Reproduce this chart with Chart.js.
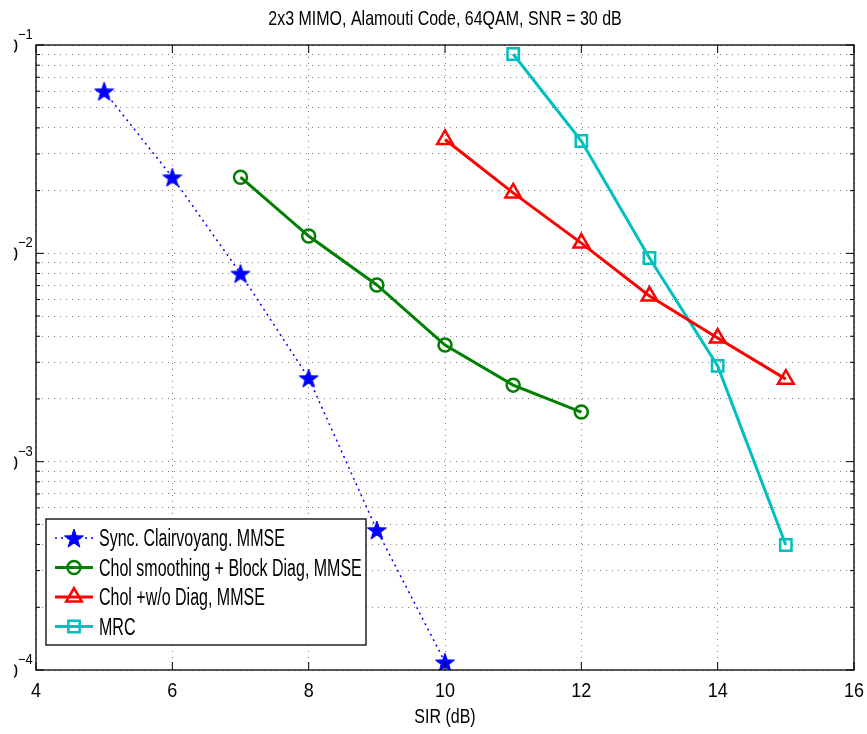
<!DOCTYPE html>
<html>
<head>
<meta charset="utf-8">
<script src="https://cdn.jsdelivr.net/npm/chart.js@4/dist/chart.umd.min.js"></script>
<style>
html, body { margin: 0; padding: 0; background: #fff; }
#wrap { width: 867px; height: 734px; position: relative; }
</style>
</head>
<body>
<div id="wrap"><canvas id="chart"></canvas></div>
<script>
// ---- data ----
var titleText = '2x3 MIMO, Alamouti Code, 64QAM, SNR = 30 dB';
var xTitle = 'SIR (dB)';

var syncSir = [5, 6, 7, 8, 9, 10];
var syncBer = [0.060, 0.0232, 0.0080, 0.00252, 0.00047, 0.000109];

var cholBlockSir = [7, 8, 9, 10, 11, 12];
var cholBlockBer = [0.0232, 0.0121, 0.00705, 0.00363, 0.00233, 0.00173];

var cholNoDiagSir = [10, 11, 12, 13, 14, 15];
var cholNoDiagBer = [0.0352, 0.0195, 0.0112, 0.00624, 0.00392, 0.00249];

var mrcSir = [11, 12, 13, 14, 15];
var mrcBer = [0.0905, 0.0346, 0.0095, 0.00288, 0.000398];

var seriesNames = ['Sync. Clairvoyang. MMSE', 'Chol smoothing + Block Diag, MMSE', 'Chol +w/o Diag, MMSE', 'MRC'];

var xTicks = [4, 6, 8, 10, 12, 14, 16];
var yDecades = [1e-4, 1e-3, 1e-2, 1e-1];
var yDecadeExp = ['\u22124', '\u22123', '\u22122', '\u22121'];
var yMinorMult = [2, 3, 4, 5, 6, 7, 8, 9];

function toPoints(xs, ys) {
    var pts = [];
    for (var i = 0; i < xs.length; i++) pts.push({x: xs[i], y: ys[i]});
    return pts;
}

// filled pentagram marker
function makeStar(color, r) {
    var c = document.createElement('canvas');
    var s = Math.ceil(r * 2 + 4);
    c.width = s; c.height = s;
    var g = c.getContext('2d');
    g.translate(s / 2, s / 2 + 1);
    g.beginPath();
    for (var i = 0; i < 10; i++) {
        var rr = (i % 2 === 0) ? r : r * 0.4;
        var a = -Math.PI / 2 + i * Math.PI / 5;
        var px = rr * Math.cos(a), py = rr * Math.sin(a);
        if (i === 0) g.moveTo(px, py); else g.lineTo(px, py);
    }
    g.closePath();
    g.fillStyle = color;
    g.fill();
    g.strokeStyle = color;
    g.lineWidth = 1;
    g.stroke();
    return c;
}
var starImg = makeStar('#0000ff', 10);

var FONT = '"Liberation Sans", Arial, Helvetica, sans-serif';

function stretchText(ctx, txt, x, y, size, align, sy) {
    ctx.save();
    ctx.font = size + 'px ' + FONT;
    ctx.textAlign = align;
    ctx.textBaseline = 'alphabetic';
    ctx.translate(x, y);
    ctx.scale(1, sy);
    ctx.fillText(txt, 0, 0);
    ctx.restore();
}

var matlabFrame = {
    id: 'matlabFrame',
    afterDatasetsDraw: function (chart) {
        var ctx = chart.ctx, a = chart.chartArea;
        var xs = chart.scales.x, ys = chart.scales.y;
        ctx.save();
        ctx.fillStyle = '#000';
        ctx.strokeStyle = '#000';

        // box
        ctx.lineWidth = 1.3;
        ctx.strokeRect(a.left, a.top, a.right - a.left, a.bottom - a.top);

        // inward ticks
        ctx.lineWidth = 1;
        ctx.beginPath();
        xTicks.forEach(function (t) {
            var px = xs.getPixelForValue(t);
            ctx.moveTo(px, a.bottom); ctx.lineTo(px, a.bottom - 8);
            ctx.moveTo(px, a.top); ctx.lineTo(px, a.top + 8);
        });
        yDecades.forEach(function (d, i) {
            var py = ys.getPixelForValue(d);
            ctx.moveTo(a.left, py); ctx.lineTo(a.left + 8, py);
            ctx.moveTo(a.right, py); ctx.lineTo(a.right - 8, py);
            if (i < yDecades.length - 1) {
                yMinorMult.forEach(function (m) {
                    var pm = ys.getPixelForValue(d * m);
                    ctx.moveTo(a.left, pm); ctx.lineTo(a.left + 4, pm);
                    ctx.moveTo(a.right, pm); ctx.lineTo(a.right - 4, pm);
                });
            }
        });
        ctx.stroke();

        // x tick labels
        xTicks.forEach(function (t) {
            stretchText(ctx, String(t), xs.getPixelForValue(t), 697, 18, 'center', 1.12);
        });
        // y tick labels (figure is cropped at the left, only the end of "10" shows)
        yDecades.forEach(function (d, i) {
            var py = ys.getPixelForValue(d);
            ctx.save();
            ctx.beginPath();
            ctx.rect(14, py - 20, 40, 40);
            ctx.clip();
            stretchText(ctx, '10', 18, py + 8, 18, 'right', 1.15);
            ctx.restore();
            stretchText(ctx, yDecadeExp[i], 18, py - 6, 13, 'left', 1.1);
        });

        // titles
        stretchText(ctx, titleText, (a.left + a.right) / 2, 25, 16, 'center', 1.22);
        stretchText(ctx, xTitle, (a.left + a.right) / 2, 723, 16, 'center', 1.22);

        // legend
        var lx = 46, ly = 519, lw = 320, lh = 126;
        ctx.fillStyle = '#fff';
        ctx.fillRect(lx, ly, lw, lh);
        ctx.lineWidth = 1.3;
        ctx.strokeStyle = '#000';
        ctx.strokeRect(lx, ly, lw, lh);
        chart.data.datasets.forEach(function (ds, i) {
            var ry = 538 + i * 29.5;
            ctx.save();
            ctx.strokeStyle = ds.borderColor;
            ctx.lineWidth = ds.borderWidth;
            ctx.setLineDash(ds.borderDash || []);
            ctx.beginPath();
            ctx.moveTo(55, ry); ctx.lineTo(93, ry);
            ctx.stroke();
            ctx.setLineDash([]);
            ctx.lineWidth = ds.pointBorderWidth;
            ctx.fillStyle = ds.pointBackgroundColor;
            Chart.helpers.drawPoint(ctx, {
                pointStyle: ds.pointStyle, radius: ds.pointRadius,
                rotation: 0, borderWidth: ds.pointBorderWidth
            }, 74, ry);
            ctx.restore();
            ctx.fillStyle = '#000';
            stretchText(ctx, seriesNames[i], 99, ry + 8, 16, 'left', 1.45);
        });
        ctx.restore();
    }
};

new Chart(document.getElementById('chart'), {
    type: 'scatter',
    data: {
        datasets: [
            {
                label: seriesNames[0],
                data: toPoints(syncSir, syncBer),
                showLine: true,
                borderColor: '#0000ff',
                borderWidth: 1.5,
                borderDash: [2, 4],
                pointStyle: starImg,
                pointRadius: 10,
                pointBorderWidth: 1,
                pointBackgroundColor: '#0000ff'
            },
            {
                label: seriesNames[1],
                data: toPoints(cholBlockSir, cholBlockBer),
                showLine: true,
                borderColor: '#008000',
                borderWidth: 3,
                pointStyle: 'circle',
                pointRadius: 6.5,
                pointBorderWidth: 2.5,
                pointBackgroundColor: 'rgba(0,0,0,0)'
            },
            {
                label: seriesNames[2],
                data: toPoints(cholNoDiagSir, cholNoDiagBer),
                showLine: true,
                borderColor: '#ff0000',
                borderWidth: 3,
                pointStyle: 'triangle',
                pointRadius: 9,
                pointBorderWidth: 2.5,
                pointBackgroundColor: 'rgba(0,0,0,0)'
            },
            {
                label: seriesNames[3],
                data: toPoints(mrcSir, mrcBer),
                showLine: true,
                borderColor: '#00bfbf',
                borderWidth: 3,
                pointStyle: 'rect',
                pointRadius: 8,
                pointBorderWidth: 2.5,
                pointBackgroundColor: 'rgba(0,0,0,0)'
            }
        ]
    },
    options: {
        responsive: true,
        maintainAspectRatio: false,
        animation: false,
        layout: { padding: { top: 45, right: 13, left: 0, bottom: 0 } },
        plugins: { legend: { display: false }, title: { display: false }, tooltip: { enabled: false } },
        scales: {
            x: {
                type: 'linear', min: 4, max: 16,
                afterBuildTicks: function (s) { s.ticks = xTicks.map(function (v) { return {value: v}; }); },
                afterFit: function (s) { s.height = 64; },
                ticks: { display: false },
                grid: { color: '#7a7a7a', lineWidth: 1, drawTicks: false },
                border: { display: false, dash: [1, 5] }
            },
            y: {
                type: 'logarithmic', min: 1e-4, max: 1e-1,
                afterBuildTicks: function (s) {
                    var t = [];
                    yDecades.forEach(function (d, i) {
                        t.push({value: d});
                        if (i < yDecades.length - 1) yMinorMult.forEach(function (m) { t.push({value: d * m}); });
                    });
                    s.ticks = t;
                },
                afterFit: function (s) { s.width = 36; },
                ticks: { display: false },
                grid: { color: '#7a7a7a', lineWidth: 1, drawTicks: false },
                border: { display: false, dash: [1, 5] }
            }
        }
    },
    plugins: [matlabFrame]
});
</script>
</body>
</html>
